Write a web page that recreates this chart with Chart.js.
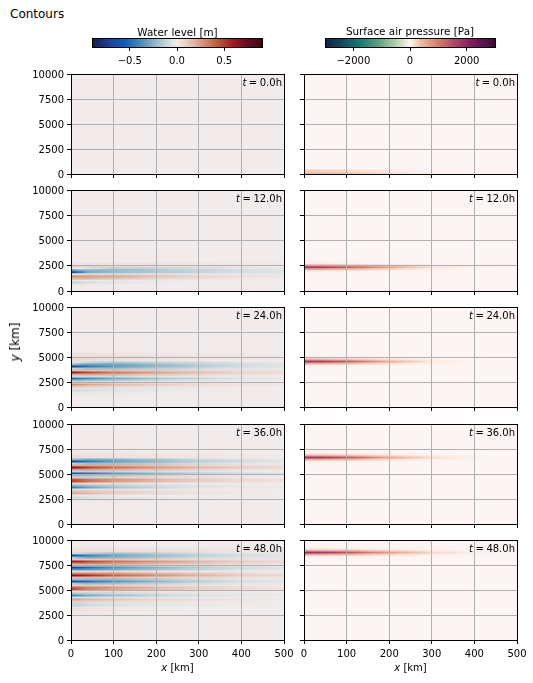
<!DOCTYPE html>
<html><head><meta charset="utf-8">
<script src="https://cdn.jsdelivr.net/npm/chart.js@4"></script>
<style>
html,body{margin:0;padding:0;background:#fff;}
body{width:533px;height:683px;position:relative;overflow:hidden;font-family:"DejaVu Sans",sans-serif;color:#000;}
canvas{position:absolute;display:block;}
.t{position:absolute;white-space:nowrap;font-size:10px;line-height:12px;}
.eq{margin:0 2.5px;}
</style></head><body>
<script>
// ---------- axes / ticks ----------
const xTicks = [0,100,200,300,400,500];
const yTicks = [0,2500,5000,7500,10000];
const waterBarTicks = [-0.5,0,0.5];
const pressureBarTicks = [-2000,0,2000];
const times = ["0.0","12.0","24.0","36.0","48.0"];
// x stations (km) at which every row of values is read
const stations = [0,15,40,100,200,300,400,500];
const rowStep = 200; // m

// ---------- colour scales: [value, colour] ----------
const balanceStops = [[-0.9,"#181c43"],[-0.72,"#1a3f97"],[-0.55,"#0d5fbd"],[-0.4,"#3f87b4"],[-0.2,"#9fbfcc"],[-0.06,"#dfe3e4"],[0,"#f1ebeb"],[0.1,"#e8cfc7"],[0.25,"#d99b84"],[0.42,"#c25d3c"],[0.58,"#a31d23"],[0.72,"#6f0b25"],[0.9,"#3c0912"]];
const curlStops = [[-3000,"#151d44"],[-2400,"#134a5e"],[-1800,"#0f7a73"],[-1100,"#5da282"],[-500,"#b6cfae"],[0,"#fdf5f3"],[400,"#eeb9a0"],[1000,"#d57a6a"],[1600,"#b13f6d"],[2300,"#74165f"],[3000,"#340d35"]];

// ---------- water level [m]: each row = y [m], then value at each station ----------
const water0 = [];
const water12 = [
[2700,.02,.03,.03,.03,.03,.02,.01,.01],
[2500,.12,.11,.09,.07,.05,.04,.02,.01],
[2300,.03,.01,-.06,-.13,-.11,-.08,-.05,-.03],
[2100,-.35,-.28,-.24,-.22,-.17,-.12,-.08,-.05],
[1900,-.72,-.5,-.28,-.21,-.16,-.12,-.08,-.05],
[1700,-.05,-.05,-.07,-.08,-.06,-.04,-.02,-.02],
[1500,.28,.27,.25,.21,.14,.08,.04,.02],
[1300,.2,.2,.18,.15,.09,.05,.02,.01],
[1100,-.03,-.03,-.02,-.02,-.01,0,0,0],
[900,-.14,-.11,-.08,-.05,-.02,-.01,0,0],
[700,-.04,-.03,-.02,-.01,0,0,0,0]];
const water24 = [
[5300,.03,.03,.03,.03,.02,.01,.01,0],
[5100,.05,.05,.05,.05,.04,.03,.02,.01],
[4900,.08,.07,.07,.06,.05,.03,.02,.01],
[4700,.06,.05,.04,.03,.02,.01,0,0],
[4500,-.03,-.07,-.12,-.17,-.13,-.09,-.06,-.03],
[4300,-.22,-.26,-.32,-.3,-.21,-.14,-.09,-.05],
[4100,-.75,-.6,-.44,-.33,-.23,-.15,-.09,-.06],
[3900,-.1,-.14,-.2,-.2,-.14,-.09,-.05,-.03],
[3700,.18,.16,.16,.15,.11,.07,.04,.02],
[3500,.65,.56,.46,.34,.23,.15,.09,.06],
[3300,.2,.2,.22,.19,.13,.08,.05,.02],
[3100,-.1,-.08,-.09,-.09,-.05,-.03,-.01,0],
[2900,-.5,-.44,-.38,-.28,-.18,-.11,-.06,-.03],
[2700,-.2,-.2,-.18,-.14,-.09,-.05,-.02,-.01],
[2500,.06,.05,.05,.04,.03,.02,.01,0],
[2300,.3,.27,.22,.17,.11,.06,.03,.02],
[2100,.14,.13,.11,.08,.05,.03,.01,0],
[1900,-.05,-.05,-.05,-.04,-.02,-.01,0,0],
[1700,-.1,-.09,-.08,-.06,-.03,-.01,0,0],
[1500,-.04,-.04,-.03,-.02,-.01,0,0,0],
[1300,.03,.03,.02,.01,0,0,0,0]];
const water36 = [
[7100,.02,.02,.02,.02,.01,.01,0,0],
[6900,.05,.05,.04,.04,.03,.02,.01,.01],
[6700,.06,.05,.04,.03,.02,.01,0,0],
[6500,-.22,-.24,-.28,-.26,-.18,-.11,-.07,-.03],
[6300,-.75,-.6,-.44,-.32,-.23,-.14,-.09,-.05],
[6100,-.1,-.14,-.2,-.19,-.14,-.08,-.04,-.02],
[5900,.22,.22,.22,.2,.14,.09,.05,.03],
[5700,.68,.6,.5,.37,.26,.17,.11,.07],
[5500,.27,.26,.25,.2,.14,.09,.05,.02],
[5300,-.12,-.12,-.13,-.12,-.08,-.05,-.02,-.01],
[5100,-.6,-.56,-.48,-.34,-.22,-.14,-.09,-.06],
[4900,-.22,-.22,-.2,-.17,-.11,-.07,-.03,-.02],
[4700,.1,.1,.1,.1,.06,.04,.02,0],
[4500,.45,.42,.35,.27,.18,.11,.06,.04],
[4300,.5,.45,.36,.25,.16,.1,.06,.03],
[4100,.07,.07,.06,.05,.03,.01,0,0],
[3900,-.25,-.22,-.18,-.13,-.08,-.05,-.02,-.01],
[3700,-.45,-.38,-.3,-.2,-.11,-.06,-.03,-.02],
[3500,-.06,-.07,-.07,-.05,-.03,-.01,0,0],
[3300,.16,.15,.13,.1,.06,.03,.01,.01],
[3100,.22,.2,.16,.11,.06,.03,.01,0],
[2900,-.02,-.02,-.02,-.01,0,0,0,0],
[2700,-.1,-.09,-.07,-.04,-.02,-.01,0,0],
[2500,-.04,-.04,-.03,-.02,-.01,0,0,0],
[2300,.02,.02,.01,.01,0,0,0,0]];
const water48 = [
[9100,.02,.03,.03,.03,.03,.03,.02,.01],
[8900,.05,.06,.06,.05,.05,.04,.03,.02],
[8700,-.1,-.1,-.15,-.2,-.15,-.09,-.05,-.03],
[8500,-.72,-.55,-.42,-.3,-.21,-.14,-.09,-.05],
[8300,-.1,-.22,-.28,-.24,-.17,-.1,-.06,-.04],
[8100,.12,.12,.12,.13,.09,.06,.04,.02],
[7900,.62,.58,.48,.36,.26,.17,.11,.07],
[7700,.28,.3,.3,.25,.18,.12,.07,.04],
[7500,-.08,-.06,-.1,-.13,-.08,-.05,-.03,-.01],
[7300,-.7,-.62,-.5,-.36,-.24,-.15,-.09,-.05],
[7100,-.32,-.35,-.34,-.27,-.19,-.11,-.07,-.04],
[6900,.03,.05,.05,.05,.02,.01,.01,0],
[6700,.3,.3,.3,.26,.18,.12,.07,.04],
[6500,.68,.62,.54,.4,.28,.18,.11,.07],
[6300,.14,.16,.17,.15,.1,.07,.04,.02],
[6100,-.22,-.2,-.22,-.22,-.15,-.09,-.05,-.03],
[5900,-.65,-.58,-.48,-.35,-.23,-.14,-.08,-.05],
[5700,-.14,-.18,-.22,-.2,-.13,-.08,-.04,-.02],
[5500,.1,.1,.1,.09,.06,.04,.02,.01],
[5300,.42,.38,.32,.25,.16,.1,.06,.03],
[5100,.5,.4,.3,.21,.14,.09,.05,.02],
[4900,.06,.06,.06,.05,.03,.02,.01,0],
[4700,-.18,-.15,-.14,-.11,-.07,-.04,-.02,-.01],
[4500,-.4,-.36,-.28,-.2,-.12,-.07,-.04,-.02],
[4300,-.08,-.08,-.08,-.06,-.04,-.02,-.01,0],
[4100,.22,.21,.17,.13,.08,.05,.03,.01],
[3900,.1,.1,.09,.07,.04,.02,.01,0],
[3700,-.1,-.1,-.08,-.06,-.04,-.02,-.01,-.01],
[3500,-.14,-.13,-.1,-.07,-.03,-.02,-.01,0],
[3300,-.03,-.03,-.02,-.01,0,0,0,0],
[3100,.06,.05,.04,.02,.01,0,0,0],
[2900,.03,.03,.02,.01,0,0,0,0],
[2700,-.03,-.03,-.02,-.01,0,0,0,0]];

// ---------- surface air pressure [Pa]: same layout ----------
const pressure0 = [
[300,280,270,250,190,80,20,5,0],
[100,470,460,430,340,140,40,10,0]];
const pressure12 = [
[2800,50,50,45,30,10,0,0,0],
[2600,500,490,460,340,150,40,5,0],
[2400,1750,1700,1600,1250,600,130,15,0],
[2200,560,550,510,380,170,40,5,0],
[2000,60,60,50,35,10,0,0,0]];
const pressure24 = [
[5000,50,50,45,30,10,0,0,0],
[4800,500,490,460,350,140,30,5,0],
[4600,1800,1750,1650,1300,500,90,10,0],
[4400,560,550,510,390,160,35,5,0],
[4200,60,60,50,35,10,0,0,0]];
const pressure36 = [
[7100,50,50,45,30,15,0,0,0],
[6900,500,490,460,360,160,50,5,0],
[6700,1850,1800,1700,1350,580,160,25,0],
[6500,560,550,510,400,180,55,5,0],
[6300,60,60,50,35,15,0,0,0]];
const pressure48 = [
[9200,50,50,45,35,15,5,0,0],
[9000,500,490,460,380,180,60,10,0],
[8800,1900,1850,1750,1400,640,220,40,5],
[8600,560,550,510,420,200,70,10,0],
[8400,60,60,50,40,15,5,0,0]];

const waterPanels = [water0,water12,water24,water36,water48];
const pressurePanels = [pressure0,pressure12,pressure24,pressure36,pressure48];
const panelTops = [74,190,307,424,540];
const panelHeights = [100,101,100,100,100];

// ---------- helpers ----------
function hex(c){return [1,3,5].map(i=>parseInt(c.substr(i,2),16));}
function colorOf(stops,v){
  if(v<=stops[0][0]) return stops[0][1];
  for(let i=1;i<stops.length;i++){
    if(v<=stops[i][0]){
      const a=stops[i-1],b=stops[i],f=(v-a[0])/(b[0]-a[0]);
      const A=hex(a[1]),B=hex(b[1]);
      return "rgb("+A.map((q,k)=>Math.round(q+(B[k]-q)*f)).join(",")+")";
    }
  }
  return stops[stops.length-1][1];
}
const fontSpec={family:"'DejaVu Sans'",size:10};

// paints each row with a left-to-right gradient placed through the x scale
const rowPaint={id:"rowPaint",afterLayout(chart){
  const xs=chart.scales.x;
  chart.data.datasets.forEach(d=>{
    const x0=xs.getPixelForValue(d.xv[0]),x1=xs.getPixelForValue(d.xv[d.xv.length-1]);
    const g=chart.ctx.createLinearGradient(x0,0,x1,0);
    d.xv.forEach((x,i)=>g.addColorStop((x-d.xv[0])/(d.xv[d.xv.length-1]-d.xv[0]),colorOf(d.stops,d.cv[i])));
    d.borderColor=g;
    const o=chart.options.plugins.rowPaint;
    if(o.rowValue) d.borderWidth=Math.abs(chart.scales.y.getPixelForValue(0)-chart.scales.y.getPixelForValue(o.rowValue))+1;
    else d.borderWidth=chart.chartArea.bottom-chart.chartArea.top;
  });
}};
const frame={id:"frame",
  beforeDatasetsDraw(chart,a,o){
    const c=chart.chartArea,ctx=chart.ctx;
    if(o.background){ctx.save();ctx.fillStyle=o.background;ctx.fillRect(c.left,c.top,c.right-c.left,c.bottom-c.top);ctx.restore();}
    ctx.filter=o.blur?"blur("+o.blur+"px)":"none";
  },
  afterDatasetsDraw(chart){chart.ctx.filter="none";},
  afterDraw(chart){
    const c=chart.chartArea,ctx=chart.ctx;
    ctx.save();ctx.strokeStyle="#000";ctx.lineWidth=1;
    ctx.strokeRect(Math.round(c.left)+0.5,Math.round(c.top)+0.5,Math.round(c.right-c.left),Math.round(c.bottom-c.top));
    ctx.restore();
  }};

function makeCanvas(l,t,w,h,padL,padT,padR,padB){
  const cv=document.createElement("canvas");
  const W=w+padL+padR,H=h+padT+padB;
  cv.width=W;cv.height=H;
  cv.style.left=(l-padL)+"px";cv.style.top=(t-padT)+"px";cv.style.width=W+"px";cv.style.height=H+"px";
  document.body.appendChild(cv);
  return cv;
}
function noOverflow(s){s.paddingTop=0;s.paddingBottom=0;s.paddingLeft=0;s.paddingRight=0;}

function panel(rows,stops,l,t,w,h,showX,showY){
  const padL=50,padT=6,padR=16,padB=24;
  const cv=makeCanvas(l,t,w,h,padL,padT,padR,padB);
  const datasets=rows.map(r=>({
    data:stations.map(x=>({x:x,y:r[0]})),
    xv:stations,cv:r.slice(1),stops:stops,
    borderWidth:2,pointRadius:0,tension:0,fill:false,borderCapStyle:"butt",borderJoinStyle:"bevel"
  }));
  new Chart(cv,{type:"line",data:{datasets},plugins:[rowPaint,frame],options:{
    responsive:false,animation:false,devicePixelRatio:1,
    layout:{padding:{top:padT,right:padR,left:0,bottom:0}},
    plugins:{legend:{display:false},tooltip:{enabled:false},rowPaint:{rowValue:rowStep},frame:{background:colorOf(stops,0),blur:0.55}},
    scales:{
      x:{type:"linear",min:0,max:500,
        afterBuildTicks:s=>{s.ticks=xTicks.map(v=>({value:v}));},
        afterFit:s=>{s.height=padB;noOverflow(s);},
        grid:{color:"#b0b0b0",lineWidth:1,z:1,tickColor:"#000",tickLength:4,drawTicks:true},
        border:{display:false},
        ticks:{display:showX,color:"#000",font:fontSpec,padding:4,maxRotation:0,autoSkip:false}},
      y:{type:"linear",min:0,max:10000,
        afterBuildTicks:s=>{s.ticks=yTicks.map(v=>({value:v}));},
        afterFit:s=>{s.width=padL;noOverflow(s);},
        grid:{color:"#b0b0b0",lineWidth:1,z:1,tickColor:"#000",tickLength:4,drawTicks:true},
        border:{display:false},
        ticks:{display:showY,color:"#000",font:fontSpec,padding:3,labelOffset:1,autoSkip:false,callback:v=>String(v)}}
    }}});
}

function colorbar(stops,ticks,tickText,l,t,w,h){
  const padT=2,padB=22,padL=14,padR=14;
  const cv=makeCanvas(l,t,w,h,padL,padT,padR,padB);
  const xv=stops.map(s=>s[0]);
  new Chart(cv,{type:"line",data:{datasets:[{
      data:xv.map(x=>({x:x,y:0.5})),xv:xv,cv:xv,stops:stops,
      borderWidth:h,pointRadius:0,tension:0,fill:false,borderCapStyle:"butt"}]},
    plugins:[rowPaint,frame],options:{
    responsive:false,animation:false,devicePixelRatio:1,
    layout:{padding:{top:padT,right:padR,left:padL,bottom:0}},
    plugins:{legend:{display:false},tooltip:{enabled:false},rowPaint:{},frame:{}},
    scales:{
      x:{type:"linear",min:xv[0],max:xv[xv.length-1],
        afterBuildTicks:s=>{s.ticks=ticks.map(v=>({value:v}));},
        afterFit:s=>{s.height=padB;noOverflow(s);},
        grid:{drawOnChartArea:false,tickColor:"#000",tickLength:4,drawTicks:true},
        border:{display:false},
        ticks:{color:"#000",font:fontSpec,padding:4,maxRotation:0,autoSkip:false,callback:v=>tickText[ticks.indexOf(v)]}},
      y:{type:"linear",min:0,max:1,display:false}
    }}});
}

function label(html,l,t,extra){
  const d=document.createElement("div");d.className="t";d.innerHTML=html;
  d.style.left=l+"px";d.style.top=t+"px";
  if(extra) Object.assign(d.style,extra);
  document.body.appendChild(d);return d;
}

// ---------- build ----------
const leftX=71,rightX=304,plotW=213;
colorbar(balanceStops,waterBarTicks,["\u22120.5","0.0","0.5"],92,38,170,9);
colorbar(curlStops,pressureBarTicks,["\u22122000","0","2000"],325,38,170,9);
panelTops.forEach((top,i)=>{
  const last=i===panelTops.length-1;
  panel(waterPanels[i],balanceStops,leftX,top,plotW,panelHeights[i],last,true);
  panel(pressurePanels[i],curlStops,rightX,top,plotW,panelHeights[i],last,false);
  [leftX,rightX].forEach(x=>{
    const d=label('<i>t</i><span class="eq">=</span>'+times[i]+'h',0,top+3);
    d.style.left="auto";d.style.right=(533-(x+plotW-2))+"px";
  });
});
label("Contours",10,7,{fontSize:"12px",lineHeight:"14px"});
[["Water level [m]",177.5,26],["Surface air pressure [Pa]",410,25]].forEach(a=>{
  label(a[0],a[1],a[2],{transform:"translateX(-50%)",fontSize:"10.4px"});
});
[leftX,rightX].forEach(x=>label('<i>x</i> [km]',x+plotW/2,662,{transform:"translateX(-50%)"}));
label('<i>y</i> [km]',15,342,{fontSize:"12px",lineHeight:"14px",transform:"translate(-50%,-50%) rotate(-90deg)"});
</script>
</body></html>
